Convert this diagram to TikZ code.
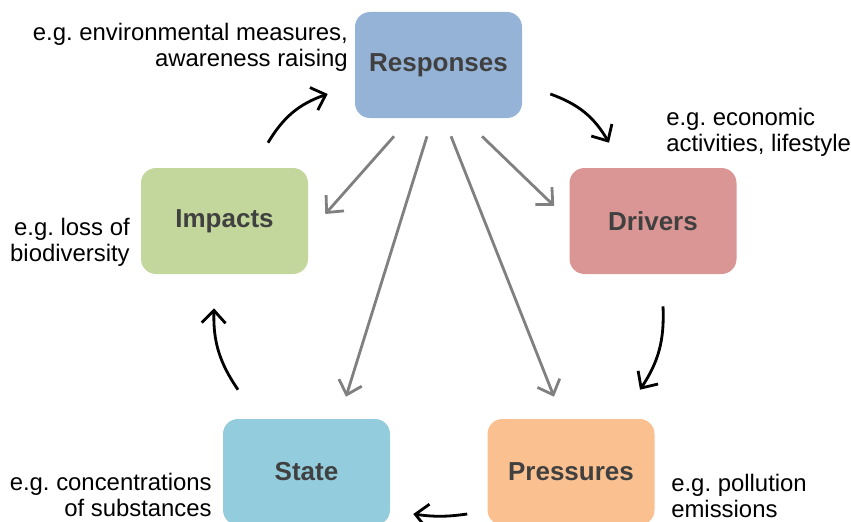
\documentclass[tikz,border=0pt]{standalone}
\usepackage{fontspec}
\setmainfont{Liberation Sans}
\usetikzlibrary{arrows.meta}

\definecolor{respblue}{HTML}{95B3D7}
\definecolor{drvred}{HTML}{D99694}
\definecolor{presorange}{HTML}{FAC090}
\definecolor{stateaqua}{HTML}{93CDDD}
\definecolor{impgreen}{HTML}{C3D69B}
\definecolor{labelgray}{HTML}{404040}
\definecolor{arrowgray}{HTML}{808080}

\frenchspacing

\begin{document}
\begin{tikzpicture}[
		stage/.style={rounded corners=0.375cm, minimum width=4.175cm, minimum height=2.65cm, text=labelgray, font=\fontsize{18.5}{22}\selectfont\bfseries},
		note/.style={inner sep=0pt, font=\fontsize{17}{18.5}\selectfont},
		cyclearrow/.style={-{Straight Barb[length=9pt,width=17pt]}, line width=2pt, black},
		feedarrow/.style={-{Straight Barb[length=9pt,width=17pt]}, line width=2pt, arrowgray}
	]
		
		\useasboundingbox (0, 0) rectangle (21.275, -13.05);
		
		% the five stages
		\node [stage, fill=respblue] (resp) at (10.9625, -1.625) {Responses};
		\node [stage, fill=drvred] (drv) at (16.325, -5.525) {Drivers};
		\node [stage, fill=presorange] (pres) at (14.275, -11.8) {Pressures};
		\node [stage, fill=stateaqua] (state) at (7.6625, -11.8) {State};
		\node [stage, fill=impgreen] (imp) at (5.6125, -5.525) {Impacts};
		
		% examples
		\node [note, anchor=east, align=right] (respnote) at (8.7, -1.19) {e.g. environmental measures,\\awareness raising};
		\node [note, anchor=west, align=left] (drvnote) at (16.65, -3.31) {e.g. economic\\activities, lifestyle};
		\node [note, anchor=west, align=left] (presnote) at (16.775, -12.4) {e.g. pollution\\emissions};
		\node [note, anchor=east, align=right] (statenote) at (5.3, -12.375) {e.g. concentrations\\of substances};
		\node [note, anchor=east, align=right] (impnote) at (3.25, -6.06) {e.g. loss of\\biodiversity};
		
		% the cycle
		\draw [cyclearrow] ([xshift=0.7cm, yshift=-0.725cm] resp.east) to [bend left=20] ([xshift=-1.1cm, yshift=0.625cm] drv.north);
		\draw [cyclearrow] ([xshift=0.25cm, yshift=-0.8cm] drv.south) to [bend left=18] ([xshift=1.725cm, yshift=0.725cm] pres.north);
		\draw [cyclearrow] ([xshift=-0.5cm, yshift=-1.05cm] pres.west) to [bend left=8] ([xshift=0.575cm, yshift=-1.05cm] state.east);
		\draw [cyclearrow] ([xshift=-1.7125cm, yshift=0.725cm] state.north) to [bend left=18] ([xshift=-0.2625cm, yshift=-0.85cm] imp.south);
		\draw [cyclearrow] ([xshift=1.0875cm, yshift=0.625cm] imp.north) to [bend left=20] ([xshift=-0.675cm, yshift=-0.725cm] resp.west);
		
		% responses act on every stage
		\draw [feedarrow] ([xshift=-1.1125cm, yshift=-0.45cm] resp.south) -- ([xshift=0.425cm, yshift=0.175cm] imp.east);
		\draw [feedarrow] ([xshift=-0.2875cm, yshift=-0.45cm] resp.south) -- ([xshift=0.9875cm, yshift=0.55cm] state.north);
		\draw [feedarrow] ([xshift=0.3125cm, yshift=-0.45cm] resp.south) -- ([xshift=-0.425cm, yshift=0.55cm] pres.north);
		\draw [feedarrow] ([xshift=1.0875cm, yshift=-0.45cm] resp.south) -- ([xshift=-0.375cm, yshift=0.375cm] drv.west);
		
\end{tikzpicture}
\end{document}
